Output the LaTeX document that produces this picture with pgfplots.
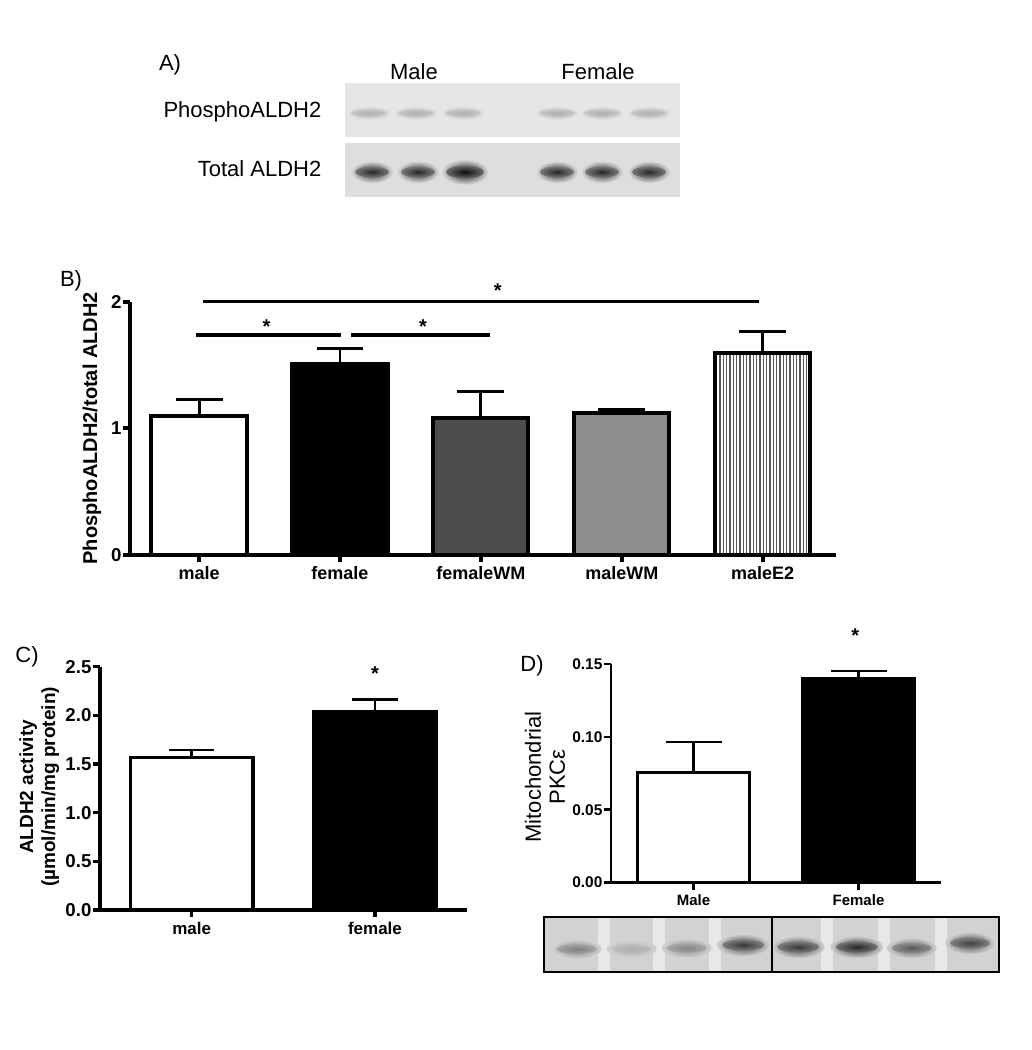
\documentclass[border=0pt]{standalone}
\usepackage{pgfplots}
\pgfplotsset{compat=1.18}
\usepackage{fontspec}
\setmainfont{Liberation Sans}
\usetikzlibrary{patterns.meta}
\definecolor{fwm}{HTML}{4D4D4D}
\definecolor{mwm}{HTML}{8E8E8E}
\definecolor{blotA}{HTML}{E6E6E6}
\definecolor{blotB}{HTML}{DEDEDE}
\definecolor{blotD}{HTML}{D2D2D2}
\definecolor{gapD}{HTML}{E8E8E8}

\pgfplotsset{
  panel/.style={scale only axis, anchor=south west, at={(0pt,0pt)}, clip=false,
    axis lines=left, axis line style={-, line width=#1},
    enlargelimits=false, tick align=outside, major tick length=5.25pt,
    tick style={black, line width=#1}},
  errb/.style 2 args={error bars/.cd, y dir=plus, y explicit,
    error bar style={line width=#1, black},
    error mark options={line width=#1, mark size=#2, black, rotate=90}}
}
% band: x y rx ry color background  (pixel units, scope with x=y=0.75pt)
\newcommand{\band}[6]{%
  \colorlet{bandc}{#5}\colorlet{bandbg}{#6}%
  \colorlet{bandm}{bandc!55!bandbg}%
  \shade[inner color=bandc, outer color=bandbg] (#1,#2) ellipse ({#3*1.25} and {#4*1.6});
  \shade[inner color=bandc, outer color=bandm] (#1,#2) ellipse ({#3} and {#4*0.8});
}

\begin{document}
\begin{tikzpicture}
\begin{scope}[x=0.75pt,y=0.75pt]
\useasboundingbox (0,0) rectangle (1032,1050);
% ---------------- Panel A ----------------
\node[font=\fontsize{16.5}{18}\selectfont] at (170,985) {A)};
\node[font=\fontsize{16.5}{18}\selectfont] at (414,978) {Male};
\node[font=\fontsize{16.5}{18}\selectfont] at (598,978) {Female};
\node[font=\fontsize{16.5}{18}\selectfont, anchor=east] at (326,938) {PhosphoALDH2};
\node[font=\fontsize{16.5}{18}\selectfont, anchor=east] at (326,881) {Total ALDH2};
\fill[blotA] (345,967) rectangle (680,913);
\fill[blotB] (345,907) rectangle (680,853);
\foreach \xx in {369,416,463,557,602,649} {\band{\xx}{937}{18}{4.5}{black!32}{blotA}}
\foreach \xx in {372,418,557,602,649} {\band{\xx}{878}{17}{7}{black!85}{blotB}}
\band{465}{878}{19}{8}{black!95}{blotB}
% panel letters
\node[font=\fontsize{16.5}{18}\selectfont] at (71,769) {B)};
\node[font=\fontsize{16.5}{18}\selectfont] at (27,393) {C)};
\node[font=\fontsize{16.5}{18}\selectfont] at (532,384) {D)};
% blot under D
\fill[blotD] (544.3,133.3) rectangle (999.3,78.3);
\foreach \xx in {604,659,715,827,884,941} {\fill[gapD] (\xx-6,133.3) rectangle (\xx+6,78.3);}
\band{576.7}{101}{20}{6}{black!50}{blotD}
\band{631.7}{101}{20}{5.5}{black!32}{blotD}
\band{686.7}{102}{20}{6}{black!48}{blotD}
\band{743.3}{105}{21}{7}{black!78}{blotD}
\band{798.3}{103}{21}{7}{black!78}{blotD}
\band{856.7}{103}{21}{7}{black!85}{blotD}
\band{911.7}{102}{20}{6.5}{black!65}{blotD}
\band{970}{107}{20}{7}{black!75}{blotD}
\draw[line width=1.6pt] (544.3,133.3) rectangle (999.3,78.3);
\draw[line width=1.6pt] (771.7,133.3) -- (771.7,78.3);
\end{scope}

% ---------------- Panel B ----------------
\begin{scope}[shift={(97.5pt,371.25pt)}]
\begin{axis}[panel=3pt, width=529.5pt, height=190pt,
  xmin=-0.49, xmax=4.52, ymin=0, ymax=2,
  xtick={0,1,2,3,4}, xticklabels={male,female,femaleWM,maleWM,maleE2},
  ytick={0,1,2}, yticklabels={0,1,2},
  xticklabel style={font=\fontsize{13.5}{15}\selectfont\bfseries},
  yticklabel style={font=\fontsize{14}{15}\selectfont\bfseries, inner xsep=1pt},
  ylabel={PhosphoALDH2/total ALDH2},
  ylabel style={at={(axis description cs:-0.054,0.5)}, anchor=center,
    font=\fontsize{15}{17}\selectfont\bfseries}]
\addplot[ybar, bar width=0.675, fill=white, draw=black, line width=3pt, errb={2.2pt}{17.6pt}]
  coordinates {(0,1.10) +- (0,0.129)};
\addplot[ybar, bar width=0.675, fill=black, draw=black, line width=3pt, errb={2.2pt}{17.6pt}]
  coordinates {(1,1.505) +- (0,0.125)};
\addplot[ybar, bar width=0.675, fill=fwm, draw=black, line width=3pt, errb={2.2pt}{17.6pt}]
  coordinates {(2,1.084) +- (0,0.206)};
\addplot[ybar, bar width=0.675, fill=mwm, draw=black, line width=3pt, errb={2.2pt}{17.6pt}]
  coordinates {(3,1.123) +- (0,0.027)};
\addplot[ybar, bar width=0.675, pattern={Lines[angle=90, distance=2.5pt, line width=0.9pt]},
  pattern color=black!65, draw=black, line width=3pt, errb={2.2pt}{17.6pt}]
  coordinates {(4,1.597) +- (0,0.171)};
\draw[line width=2.4pt] (axis cs:0.03,2.0) -- (axis cs:3.97,2.0);
\draw[line width=2.4pt] (axis cs:-0.023,1.737) -- (axis cs:1.004,1.737);
\draw[line width=2.4pt] (axis cs:1.077,1.737) -- (axis cs:2.064,1.737);
\node[font=\fontsize{15}{16}\selectfont\bfseries, yshift=-2.5pt] at (axis cs:0.479,1.83) {*};
\node[font=\fontsize{15}{16}\selectfont\bfseries, yshift=-2.5pt] at (axis cs:1.59,1.83) {*};
\node[font=\fontsize{15}{16}\selectfont\bfseries, yshift=-2.5pt] at (axis cs:2.12,2.11) {*};
\end{axis}
\end{scope}

% ---------------- Panel C ----------------
\begin{scope}[shift={(75pt,105pt)}]
\begin{axis}[panel=2.6pt, width=275pt, height=182.5pt,
  xmin=-0.5, xmax=1.5, ymin=0, ymax=2.5,
  xtick={0,1}, xticklabels={male,female},
  ytick={0,0.5,1,1.5,2,2.5}, yticklabels={0.0,0.5,1.0,1.5,2.0,2.5},
  xticklabel style={font=\fontsize{12.75}{14}\selectfont\bfseries},
  yticklabel style={font=\fontsize{14}{15}\selectfont\bfseries, inner xsep=1pt},
  ylabel={ALDH2 activity\\(µmol/min/mg protein)},
  ylabel style={at={(axis description cs:-0.166,0.506)}, anchor=center,
    align=center, font=\fontsize{14.25}{16.5}\selectfont\bfseries}]
\addplot[ybar, bar width=0.67, fill=white, draw=black, line width=2.6pt, errb={2pt}{16.9pt}]
  coordinates {(0,1.569) +- (0,0.075)};
\addplot[ybar, bar width=0.67, fill=black, draw=black, line width=2.6pt, errb={2pt}{16.9pt}]
  coordinates {(1,2.038) +- (0,0.127)};
\node[font=\fontsize{15}{16}\selectfont\bfseries, yshift=-2.5pt] at (axis cs:1.0,2.46) {*};
\end{axis}
\end{scope}

% ---------------- Panel D ----------------
\begin{scope}[shift={(458.25pt,125.5pt)}]
\begin{axis}[panel=2pt, width=247.5pt, height=164pt,
  xmin=-0.5, xmax=1.5, ymin=0, ymax=0.15,
  xtick={0,1}, xticklabels={Male,Female},
  ytick={0,0.05,0.1,0.15}, yticklabels={0.00,0.05,0.10,0.15},
  xticklabel style={font=\fontsize{11.25}{12}\selectfont\bfseries},
  yticklabel style={font=\fontsize{11.6}{13}\selectfont\bfseries, inner xsep=1pt},
  ylabel={Mitochondrial\\PKCε},
  ylabel style={at={(axis description cs:-0.2,0.483)}, anchor=center,
    align=center, font=\fontsize{16.5}{18}\selectfont}]
\addplot[ybar, bar width=0.675, fill=white, draw=black, line width=2pt, errb={1.6pt}{21pt}]
  coordinates {(0,0.0757) +- (0,0.021)};
\addplot[ybar, bar width=0.675, fill=black, draw=black, line width=2pt, errb={1.6pt}{21pt}]
  coordinates {(1,0.1399) +- (0,0.0053)};
\node[font=\fontsize{15}{16}\selectfont\bfseries, yshift=-2.5pt] at (axis cs:0.98,0.1717) {*};
\end{axis}
\end{scope}
\end{tikzpicture}
\end{document}
